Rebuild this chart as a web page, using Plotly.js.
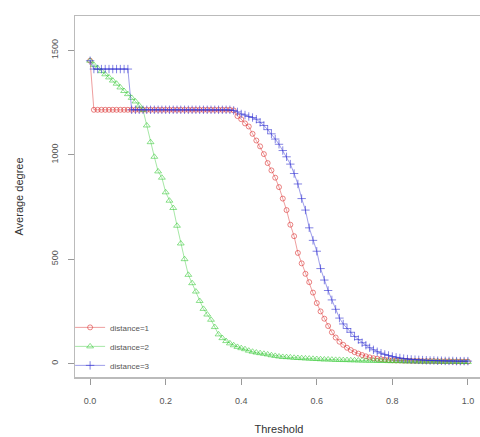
<!DOCTYPE html>
<html>
<head>
<meta charset="utf-8">
<script src="https://cdn.plot.ly/plotly-3.0.1.min.js"></script>
<style>html,body{margin:0;padding:0;overflow:hidden;background:#fff;}</style>
</head>
<body>
<div id="chart"></div>
<script>
var threshold = [0,0.01,0.02,0.03,0.04,0.05,0.06,0.07,0.08,0.09,
0.1,0.11,0.12,0.13,0.14,0.15,0.16,0.17,0.18,0.19,
0.2,0.21,0.22,0.23,0.24,0.25,0.26,0.27,0.28,0.29,
0.3,0.31,0.32,0.33,0.34,0.35,0.36,0.37,0.38,0.39,
0.4,0.41,0.42,0.43,0.44,0.45,0.46,0.47,0.48,0.49,
0.5,0.51,0.52,0.53,0.54,0.55,0.56,0.57,0.58,0.59,
0.6,0.61,0.62,0.63,0.64,0.65,0.66,0.67,0.68,0.69,
0.7,0.71,0.72,0.73,0.74,0.75,0.76,0.77,0.78,0.79,
0.8,0.81,0.82,0.83,0.84,0.85,0.86,0.87,0.88,0.89,
0.9,0.91,0.92,0.93,0.94,0.95,0.96,0.97,0.98,0.99,1];

var distance1 = [1450,1215,1215,1215,1215,1215,1215,1215,1215,1215,
1215,1215,1215,1215,1215,1215,1215,1215,1215,1215,
1215,1215,1215,1215,1215,1215,1215,1215,1215,1215,
1215,1215,1215,1215,1215,1215,1215,1215,1212,1185,
1170,1150,1135,1100,1068,1040,1003,960,925,890,
845,790,735,665,610,530,480,430,390,340,
290,250,215,180,150,125,105,90,76,65,
55,48,41,35,30,26,23,21,19,17,
16,15,15,14,14,13,13,13,12,12,
12,12,11,11,11,11,10,10,10,10,10];

var distance2 = [1450,1430,1415,1400,1385,1370,1355,1340,1322,1305,
1290,1272,1255,1235,1215,1140,1060,990,920,890,
820,780,745,660,575,500,425,385,345,300,
262,235,210,175,140,122,108,97,88,80,
74,69,62,57,53,50,47,44,40,37,
34,32,31,30,28,27,26,25,24,23,
22,21,20,20,19,18,18,17,17,16,
16,15,15,14,14,14,13,13,13,12,
12,12,12,11,11,11,11,10,10,10,
10,10,10,9,9,9,9,9,8,8,8];

var distance3 = [1450,1410,1410,1410,1410,1410,1410,1410,1410,1410,
1410,1215,1215,1215,1215,1215,1215,1215,1215,1215,
1215,1215,1215,1215,1215,1215,1215,1215,1215,1215,
1215,1215,1215,1215,1215,1215,1215,1215,1212,1205,
1195,1190,1183,1178,1170,1155,1140,1120,1100,1075,
1050,1020,990,955,910,860,790,735,650,590,
538,455,400,350,305,260,218,190,168,150,
130,115,100,88,76,66,57,50,44,39,
34,30,27,24,22,20,19,18,17,16,
15,15,14,14,13,13,13,12,12,12,12];

var seriesNames = ["distance=1","distance=2","distance=3"];
var xTicks = [0,0.2,0.4,0.6,0.8,1.0];
var xTickText = ["0.0","0.2","0.4","0.6","0.8","1.0"];
var yTicks = [0,500,1000,1500];
var yTickText = ["0","500","1000","1500"];

var colors = ["rgba(220,50,50,0.6)","rgba(50,200,50,0.55)","rgba(50,50,210,0.6)"];
var symbols = ["circle-open","triangle-up-open","cross-thin-open"];
var sizes = [5, 6, 6];
var ys = [distance1, distance2, distance3];

var traces = ys.map(function(y, i){
  return {
    x: threshold, y: y, name: seriesNames[i], type: "scatter", mode: "lines+markers",
    line: {color: colors[i], width: 0.8},
    marker: {symbol: symbols[i], size: sizes[i], color: colors[i], line: {color: colors[i], width: 1}}
  };
});

var layout = {
  width: 490, height: 437,
  margin: {l: 75, r: 7, t: 16, b: 60},
  paper_bgcolor: "#fff", plot_bgcolor: "#fff",
  font: {family: "Liberation Sans, Arial, sans-serif", color: "#333"},
  showlegend: true,
  legend: {x: -0.012, y: -0.008, xanchor: "left", yanchor: "bottom", bgcolor: "rgba(0,0,0,0)",
           font: {size: 8, color: "#555"}, itemwidth: 30, tracegroupgap: 0},
  xaxis: {
    range: [-0.04, 1.04], tickvals: xTicks, ticktext: xTickText,
    showgrid: false, zeroline: false, showline: true, mirror: true,
    linecolor: "#bbb", linewidth: 1.5, ticks: "outside", ticklen: 6, tickcolor: "#999",
    tickfont: {size: 9, color: "#555"}, ticklabelstandoff: 9,
    title: {text: "Threshold", font: {size: 11, color: "#333"}, standoff: 20}
  },
  yaxis: {
    range: [-64, 1664], tickvals: yTicks, ticktext: yTickText, tickangle: -90,
    showgrid: false, zeroline: false, showline: true, mirror: true,
    linecolor: "#bbb", linewidth: 1.5, ticks: "outside", ticklen: 6, tickcolor: "#999",
    tickfont: {size: 9, color: "#555"}, ticklabelstandoff: 6,
    title: {text: "Average degree", font: {size: 11, color: "#333"}, standoff: 24}
  }
};

Plotly.newPlot("chart", traces, layout, {staticPlot: true, displayModeBar: false});
</script>
</body>
</html>
